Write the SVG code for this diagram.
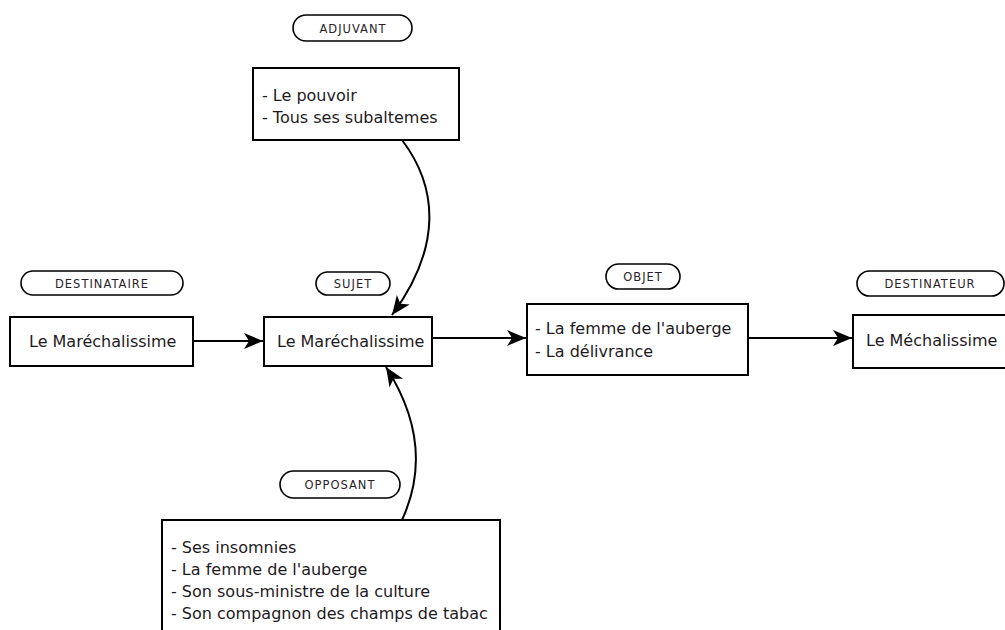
<svg xmlns="http://www.w3.org/2000/svg" width="1005" height="630" viewBox="0 0 1005 630">
  <style>
    .box { fill: #ffffff; stroke: #000000; stroke-width: 2; }
    .pill { fill: #ffffff; stroke: #000000; stroke-width: 1.6; }
    .txt { font-family: "DejaVu Sans", Verdana, sans-serif; font-size: 16px; fill: #1e1a1e; }
    .tag { font-family: "DejaVu Sans", Verdana, sans-serif; font-size: 11.5px; fill: #2a1e2a; letter-spacing: 1px; text-anchor: middle; }
    .link { fill: none; stroke: #000000; stroke-width: 2; marker-end: url(#arrow); }
  </style>
  <defs>
    <marker id="arrow" markerUnits="userSpaceOnUse" markerWidth="20" markerHeight="16" viewBox="0 0 20 16" refX="19" refY="8" orient="auto">
      <path d="M0,0 L19,8 L0,16 L5,8 Z" fill="#000000"/>
    </marker>
  </defs>
  <rect width="1005" height="630" fill="#ffffff"/>

  <!-- connectors -->
  <g id="connectors">
    <path class="link" d="M193,341 L263,341"/>
    <path class="link" d="M432,338 L526,338"/>
    <path class="link" d="M748,338 L852,338"/>
    <path class="link" d="M402,140 C440,190 440,250 392,315"/>
    <path class="link" d="M402,520 C425,470 420,420 386,367"/>
  </g>

  <!-- adjuvant -->
  <g id="adjuvant">
    <rect class="pill" x="293" y="15" width="119" height="26" rx="13"/>
    <text class="tag" x="353" y="32.5">ADJUVANT</text>
    <rect class="box" x="253" y="68" width="206" height="72"/>
    <text class="txt" x="262" y="101">- Le pouvoir</text>
    <text class="txt" x="262" y="123">- Tous ses subaltemes</text>
  </g>

  <!-- destinataire -->
  <g id="destinataire">
    <rect class="pill" x="21" y="271" width="162" height="24" rx="12"/>
    <text class="tag" x="102" y="287.5">DESTINATAIRE</text>
    <rect class="box" x="10" y="317" width="183" height="49"/>
    <text class="txt" x="29" y="347">Le Maréchalissime</text>
  </g>

  <!-- sujet -->
  <g id="sujet">
    <rect class="pill" x="316" y="272" width="74" height="23" rx="11.5"/>
    <text class="tag" x="353" y="288">SUJET</text>
    <rect class="box" x="264" y="317" width="168" height="49"/>
    <text class="txt" x="277" y="347">Le Maréchalissime</text>
  </g>

  <!-- objet -->
  <g id="objet">
    <rect class="pill" x="606" y="264" width="74" height="25" rx="12.5"/>
    <text class="tag" x="643" y="281">OBJET</text>
    <rect class="box" x="527" y="304" width="221" height="71"/>
    <text class="txt" x="535" y="334">- La femme de l'auberge</text>
    <text class="txt" x="535" y="357">- La délivrance</text>
  </g>

  <!-- destinateur -->
  <g id="destinateur">
    <rect class="pill" x="857" y="271" width="147" height="25" rx="12.5"/>
    <text class="tag" x="930" y="288">DESTINATEUR</text>
    <rect class="box" x="853" y="315" width="160" height="53"/>
    <text class="txt" x="866" y="346">Le Méchalissime</text>
  </g>

  <!-- opposant -->
  <g id="opposant">
    <rect class="pill" x="280" y="471" width="120" height="27" rx="13.5"/>
    <text class="tag" x="340" y="489">OPPOSANT</text>
    <rect class="box" x="162" y="520" width="338" height="120"/>
    <text class="txt" x="171" y="553">- Ses insomnies</text>
    <text class="txt" x="171" y="575">- La femme de l'auberge</text>
    <text class="txt" x="171" y="597">- Son sous-ministre de la culture</text>
    <text class="txt" x="171" y="619">- Son compagnon des champs de tabac</text>
  </g>
</svg>
